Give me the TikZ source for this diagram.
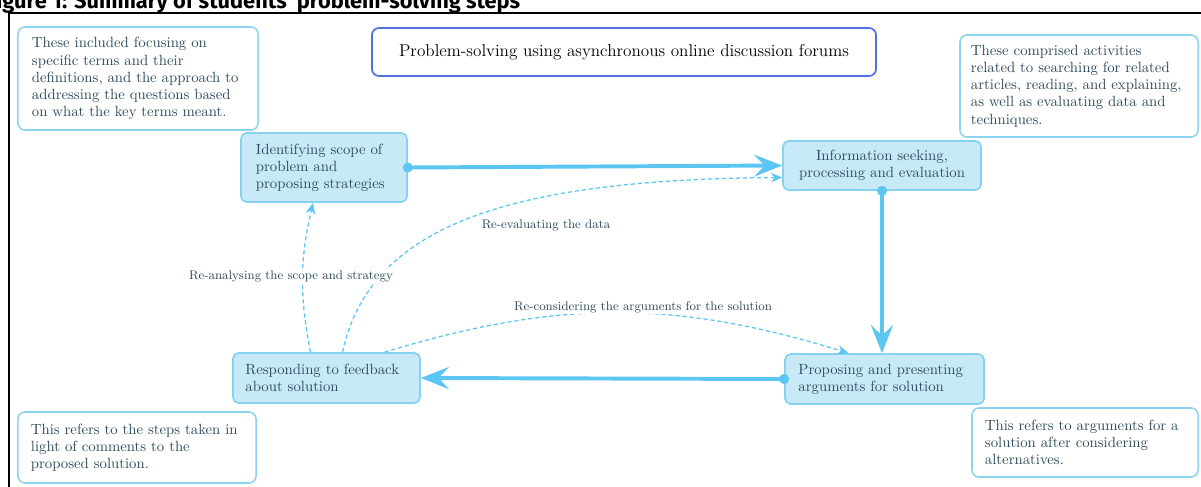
\documentclass[tikz,border=0pt]{standalone}
\usepackage{fontspec}
\newfontfamily\headfont{Fira Sans}
\usetikzlibrary{arrows.meta}
\definecolor{flowblue}{HTML}{5CC6F2}
\definecolor{stepfill}{HTML}{C8EAF8}
\definecolor{stepline}{HTML}{86D2F1}
\definecolor{noteline}{HTML}{8DD2EF}
\definecolor{titleline}{HTML}{4E72DA}
\definecolor{inktext}{HTML}{2E4A5C}

\begin{document}
\begin{tikzpicture}[x=0.025cm, y=-0.025cm,
    stepbox/.style={draw=stepline, fill=stepfill, line width=1.2pt, rounded corners=4pt, text=inktext, align=left, font=\fontsize{10.5}{12.2}\selectfont},
    notebox/.style={draw=noteline, fill=white, line width=1.1pt, rounded corners=5pt, text=inktext, align=left, font=\fontsize{10.5}{12.2}\selectfont},
    mainflow/.style={flowblue, line width=2.8pt, -{Stealth[length=7mm,width=5.5mm,inset=2.6mm]}},
    backflow/.style={flowblue, line width=0.9pt, dash pattern=on 3pt off 2pt, -{Stealth[length=2.8mm,width=2.4mm]}},
    looplabel/.style={text=inktext, font=\fontsize{8.9}{10}\selectfont, fill=white, inner sep=1pt}]
    \useasboundingbox (0,0) rectangle (1201,486);
    % frame and cut-off caption
    \node[anchor=base west, inner sep=0, font=\headfont\bfseries\fontsize{15.5}{17}\selectfont] (figtitle) at (-14,9) {Figure 1: Summary of students’ problem-solving steps};
    \draw[line width=1.4pt] (9,500) -- (9,13) -- (1215,13);

    \node[draw=titleline, line width=1.2pt, rounded corners=5pt, minimum width=12.6cm, minimum height=1.2cm, font=\fontsize{12.2}{14}\selectfont] (forum) at (624,52) {Problem-solving using asynchronous online discussion forums};

    % steps
    \node[stepbox, minimum width=4.15cm, minimum height=1.725cm, text width=3.4cm] (ident) at (324,167.5) {Identifying scope of\\ problem and\\ proposing strategies};
    \node[stepbox, minimum width=4.95cm, minimum height=1.225cm, text width=4.6cm, align=center] (info) at (882,165.5) {Information seeking,\\ processing and evaluation};
    \node[stepbox, minimum width=4.975cm, minimum height=1.25cm, text width=4.3cm] (prop) at (884.5,379) {Proposing and presenting\\ arguments for solution};
    \node[stepbox, minimum width=4.675cm, minimum height=1.25cm, text width=4.05cm] (resp) at (326.5,378) {Responding to feedback\\ about solution};

    % notes
    \node[notebox, minimum width=6cm, minimum height=2.575cm, text width=5.3cm] (notescope) at (138,78.5) {These included focusing on\\ specific terms and their\\ definitions, and the approach to\\ addressing the questions based\\ on what the key terms meant.};
    \node[notebox, minimum width=5.95cm, minimum height=2.55cm, text width=5.4cm] (noteinfo) at (1079,86) {These comprised activities\\ related to searching for related\\ articles, reading, and explaining,\\ as well as evaluating data and\\ techniques.};
    \node[notebox, minimum width=5.95cm, minimum height=1.775cm, text width=5.3cm] (noteresp) at (137,447.5) {This refers to the steps taken in\\ light of comments to the\\ proposed solution.};
    \node[notebox, minimum width=5.65cm, minimum height=1.725cm, text width=5.0cm] (noteprop) at (1085,442.5) {This refers to arguments for a\\ solution after considering\\ alternatives.};

    % main cycle
    \draw[mainflow] (ident.east) -- (info.west);
    \draw[mainflow] (info.south) -- (info.south |- prop.north);
    \draw[mainflow] (prop.west) -- (resp.east);
    \foreach \p in {ident.east, info.south, prop.west} \fill[flowblue] (\p) circle (3.6pt);

    % feedback loops
    \draw[backflow] ([xshift=-0.4cm]resp.north) to[bend left=12] ([xshift=-0.275cm]ident.south);
    \draw[backflow] ([xshift=0.4cm]resp.north) .. controls +(27,-123) and +(-283,2) .. ([yshift=-0.3cm]info.west);
    \draw[backflow] ([xshift=1.45cm]resp.north) to[bend left=17] ([xshift=-0.9cm]prop.north);
    \node[looplabel] (lblscope) at (291,276) {Re-analysing the scope and strategy};
    \node[looplabel] (lbldata) at (546,225) {Re-evaluating the data};
    \node[looplabel] (lblargs) at (643,307) {Re-considering the arguments for the solution};
\end{tikzpicture}
\end{document}
